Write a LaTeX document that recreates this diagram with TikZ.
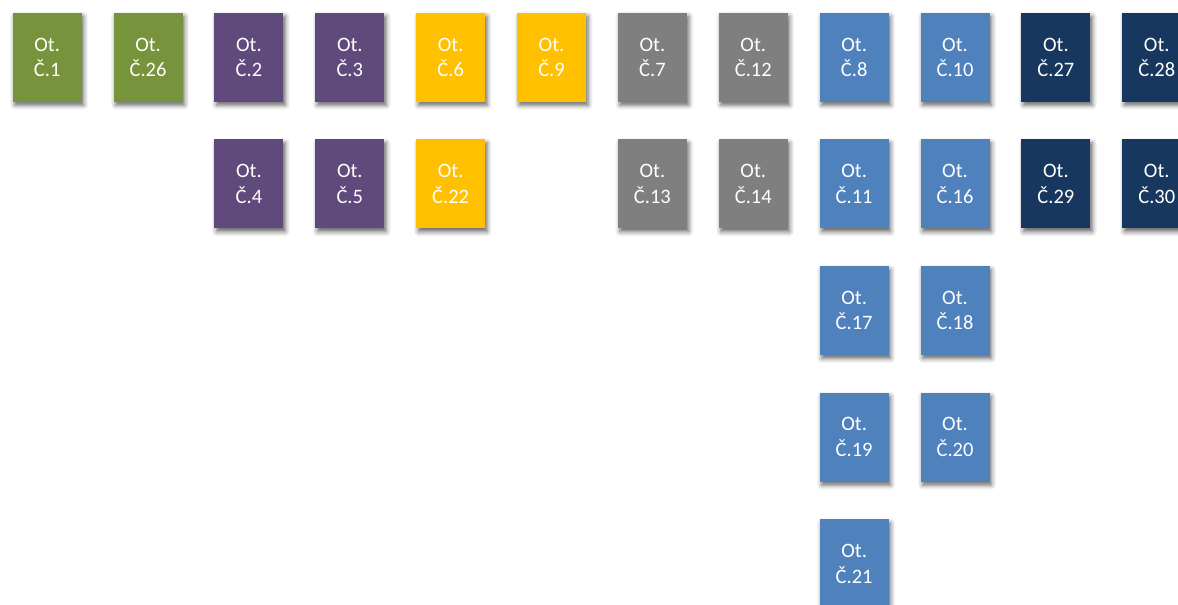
\documentclass[tikz,border=0pt]{standalone}
\usepackage{fontspec}
\setmainfont{Carlito}
\usetikzlibrary{shadows.blur}
\definecolor{cgreen}{RGB}{119,147,60}
\definecolor{cpurple}{RGB}{96,74,123}
\definecolor{cyellow}{RGB}{255,192,0}
\definecolor{cgray}{RGB}{127,127,127}
\definecolor{cblue}{RGB}{79,129,189}
\definecolor{cnavy}{RGB}{23,55,94}
\tikzset{
  ot/.style={rectangle, minimum width=69pt, minimum height=89pt, inner sep=0pt,
    text=white, align=center, font=\fontsize{20.5}{25.5}\selectfont,
    blur shadow={shadow xshift=2pt, shadow yshift=-3.5pt, shadow blur radius=4.5pt, shadow opacity=60}},
  green/.style={ot, fill=cgreen},
  purple/.style={ot, fill=cpurple},
  yellow/.style={ot, fill=cyellow},
  gray/.style={ot, fill=cgray},
  blue/.style={ot, fill=cblue},
  navy/.style={ot, fill=cnavy},
}
\newcommand{\cx}[1]{47.2+100.87*#1}
\newcommand{\ry}[1]{57.2+126.65*#1}
\begin{document}
\begin{tikzpicture}[x=1pt,y=-1pt]
\useasboundingbox (0,0) rectangle (1178,605);
% row 0
\node[green]  (n1)  at ({\cx{0}},{\ry{0}}) {Ot.\\Č.1};
\node[green]  (n26) at ({\cx{1}},{\ry{0}}) {Ot.\\Č.26};
\node[purple] (n2)  at ({\cx{2}},{\ry{0}}) {Ot.\\Č.2};
\node[purple] (n3)  at ({\cx{3}},{\ry{0}}) {Ot.\\Č.3};
\node[yellow] (n6)  at ({\cx{4}},{\ry{0}}) {Ot.\\Č.6};
\node[yellow] (n9)  at ({\cx{5}},{\ry{0}}) {Ot.\\Č.9};
\node[gray]   (n7)  at ({\cx{6}},{\ry{0}}) {Ot.\\Č.7};
\node[gray]   (n12) at ({\cx{7}},{\ry{0}}) {Ot.\\Č.12};
\node[blue]   (n8)  at ({\cx{8}},{\ry{0}}) {Ot.\\Č.8};
\node[blue]   (n10) at ({\cx{9}},{\ry{0}}) {Ot.\\Č.10};
\node[navy]   (n27) at ({\cx{10}},{\ry{0}}) {Ot.\\Č.27};
\node[navy]   (n28) at ({\cx{11}},{\ry{0}}) {Ot.\\Č.28};
% row 1
\node[purple] (n4)  at ({\cx{2}},{\ry{1}}) {Ot.\\Č.4};
\node[purple] (n5)  at ({\cx{3}},{\ry{1}}) {Ot.\\Č.5};
\node[yellow] (n22) at ({\cx{4}},{\ry{1}}) {Ot.\\Č.22};
\node[gray]   (n13) at ({\cx{6}},{\ry{1}}) {Ot.\\Č.13};
\node[gray]   (n14) at ({\cx{7}},{\ry{1}}) {Ot.\\Č.14};
\node[blue]   (n11) at ({\cx{8}},{\ry{1}}) {Ot.\\Č.11};
\node[blue]   (n16) at ({\cx{9}},{\ry{1}}) {Ot.\\Č.16};
\node[navy]   (n29) at ({\cx{10}},{\ry{1}}) {Ot.\\Č.29};
\node[navy]   (n30) at ({\cx{11}},{\ry{1}}) {Ot.\\Č.30};
% rows 2-4
\node[blue]   (n17) at ({\cx{8}},{\ry{2}}) {Ot.\\Č.17};
\node[blue]   (n18) at ({\cx{9}},{\ry{2}}) {Ot.\\Č.18};
\node[blue]   (n19) at ({\cx{8}},{\ry{3}}) {Ot.\\Č.19};
\node[blue]   (n20) at ({\cx{9}},{\ry{3}}) {Ot.\\Č.20};
\node[blue]   (n21) at ({\cx{8}},{\ry{4}}) {Ot.\\Č.21};
\end{tikzpicture}
\end{document}
